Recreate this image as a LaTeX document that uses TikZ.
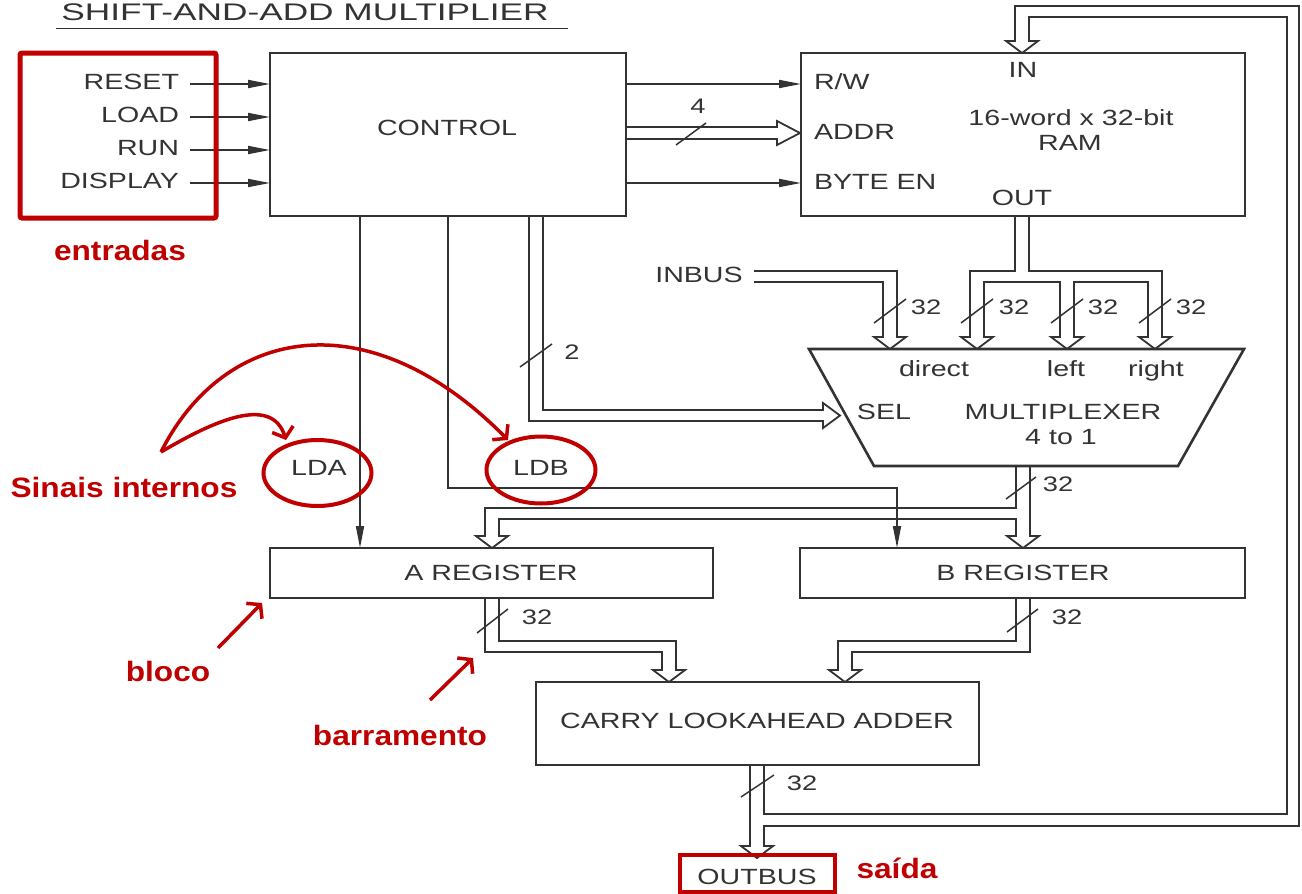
\documentclass[tikz,border=0pt]{standalone}
\usepackage{fontspec}
\usepackage{graphicx}
\setmainfont{Liberation Sans}[FakeStretch=1.3]
\newfontfamily\redfont{Liberation Sans}[FakeStretch=1.13]
\usetikzlibrary{arrows.meta,shapes.geometric}
\definecolor{ink}{HTML}{333333}
\definecolor{mark}{HTML}{C00000}
\begin{document}
\begin{tikzpicture}[x=1pt,y=-1pt,
  every node/.style={font=\fontsize{22}{24}\selectfont, text=ink, inner sep=0pt, outer sep=0pt},
  box/.style={draw=ink, line width=2.6pt, minimum width=#1},
  ln/.style={draw=ink, line width=1.8pt},
  sig/.style={ln, -{Triangle[length=22pt,width=8pt]}},
  bus/.style={ln, line join=miter},
  slash/.style={draw=ink, line width=1.5pt},
  num/.style={font=\fontsize{21}{23}\selectfont},
  redtxt/.style={font=\redfont\bfseries\fontsize{28}{30}\selectfont, text=mark},
  redarr/.style={draw=mark, line width=3.5pt, -{Straight Barb[length=9pt,width=22pt]}},
  ring/.style={draw=mark, line width=4pt, ellipse},
]
\useasboundingbox (0,0) rectangle (1302,894);

% title
\node (title) at (305,12.5) {\fontsize{24}{26}\selectfont\scalebox{1.13}[1]{SHIFT-AND-ADD MULTIPLIER}};
\coordinate (ulL) at (56,28.5);
\coordinate (ulR) at (568,28.5);
\draw[ink, line width=1.5pt] (ulL) -- (ulR);

% blocks
\node[box=356pt, minimum height=163pt] (ctrl) at (448,134.5) {};
\node (ctrltxt) at (447,128) {CONTROL};
\node[box=444pt, minimum height=163pt] (ram) at (1023,134.5) {};
\node[anchor=west] (rw) at (814,82) {R/W};
\node[anchor=west] (addr) at (814,132) {ADDR};
\node[anchor=west] (byteen) at (814,182) {BYTE EN};
\node (in) at (1023,70) {IN};
\node (out) at (1022,198) {OUT};
\node (ramtxt1) at (1071,118) {16-word x 32-bit};
\node (ramtxt2) at (1070,143) {RAM};

\node[box=443pt, minimum height=50pt] (areg) at (491.5,573) {};
\node (aregtxt) at (491,573) {A REGISTER};
\node[box=445pt, minimum height=50pt] (breg) at (1022.5,573) {};
\node (bregtxt) at (1023,573) {B REGISTER};
\node[box=443pt, minimum height=83pt] (adder) at (757.5,723.5) {};
\node (addertxt) at (757,721) {CARRY LOOKAHEAD ADDER};

% multiplexer
\draw[ink, line width=2.6pt, line join=miter] (809,349) -- (1244,349) -- (1178,466) -- (874,466) -- cycle;
\coordinate (mux) at (1026,407);
\node[anchor=base] (direct) at (934,376) {direct};
\node[anchor=base] (left) at (1066,376) {left};
\node[anchor=base] (right) at (1156,376) {right};
\node (sel) at (884,412) {SEL};
\node (muxtxt1) at (1063,412) {MULTIPLEXER};
\node (muxtxt2) at (1061,437) {4 to 1};

% inputs
\node[anchor=east] (reset) at (179,82) {RESET};
\node[anchor=east] (load) at (179,115) {LOAD};
\node[anchor=east] (run) at (179,148) {RUN};
\node[anchor=east] (display) at (179,181) {DISPLAY};
\draw[sig] (190,84) -- (ctrl.west |- 0,84);
\draw[sig] (190,117) -- (ctrl.west |- 0,117);
\draw[sig] (190,150) -- (ctrl.west |- 0,150);
\draw[sig] (190,183) -- (ctrl.west |- 0,183);

% control -> RAM
\draw[sig] (ctrl.east |- 0,84) -- (ram.west |- 0,84);
\draw[sig] (ctrl.east |- 0,183) -- (ram.west |- 0,183);
\draw[bus] (626,127) -- (777,127) -- (777,121) -- (800,133) -- (777,145) -- (777,139) -- (626,139);
\draw[slash] (676,145) -- (706,123);
\node[num] (n4) at (698,106) {4};

% control signals LDA / LDB
\coordinate (ldax) at (360,0);
\coordinate (ldbx) at (448,0);
\coordinate (ldbbx) at (897,0);
\draw[sig] (ctrl.south -| ldax) -- (areg.north -| ldax);
\draw[sig] (ctrl.south -| ldbx) -- (448,488) -- (897,488) -- (breg.north -| ldbbx);
\node (lda) at (319,468) {LDA};
\node (ldb) at (541,468) {LDB};

% SEL bus
\draw[bus] (529,216) -- (529,421) -- (823,421) -- (823,428) -- (840,415.5) -- (823,403) -- (823,410) -- (543,410) -- (543,216);
\draw[slash] (520,367) -- (552,344);
\node[num] (n2) at (572,352) {2};

% INBUS
\node (inbus) at (699,275) {INBUS};
\draw[bus] (754,271) -- (897,271) -- (897,337) -- (906,337) -- (890,349) -- (874,337) -- (883,337) -- (883,282) -- (754,282);

% RAM out to mux
\draw[bus] (1015,216) -- (1015,271) -- (970,271) -- (970,337) -- (961,337) -- (977,349) -- (993,337) -- (984,337) -- (984,282)
  -- (1060,282) -- (1060,337) -- (1051,337) -- (1067,349) -- (1083,337) -- (1074,337) -- (1074,282)
  -- (1148,282) -- (1148,337) -- (1139,337) -- (1155,349) -- (1171,337) -- (1162,337) -- (1162,271) -- (1029,271) -- (1029,216);
\foreach \c/\l in {890/926, 977/1014, 1067/1103, 1155/1191}{
  \draw[slash] (\c-16,323) -- (\c+16,299);
  \node[num] at (\l,307) {32};
}

% mux out to registers
\draw[bus] (1016,466) -- (1016,508) -- (485,508) -- (485,536) -- (476,536) -- (492,548) -- (508,536) -- (499,536) -- (499,519)
  -- (1016,519) -- (1016,536) -- (1007,536) -- (1023,548) -- (1039,536) -- (1030,536) -- (1030,466);
\draw[slash] (1006,499) -- (1036,477);
\node[num] (n32m) at (1058,484) {32};

% registers to adder
\draw[bus] (485,598) -- (485,652) -- (662,652) -- (662,670) -- (653,670) -- (669,682) -- (685,670) -- (676,670) -- (676,641) -- (499,641) -- (499,598);
\draw[slash] (477,633) -- (508,609);
\node[num] (n32a) at (537,617) {32};
\draw[bus] (1016,598) -- (1016,641) -- (838,641) -- (838,670) -- (829,670) -- (845,682) -- (861,670) -- (852,670) -- (852,652) -- (1030,652) -- (1030,598);
\draw[slash] (1007,632) -- (1038,609);
\node[num] (n32b) at (1067,617) {32};

% adder out: OUTBUS and feedback to RAM IN
\draw[bus] (750,765) -- (750,846) -- (741,846) -- (757,858) -- (773,846) -- (764,846) -- (764,826) -- (1299,826) -- (1299,6)
  -- (1015,6) -- (1015,41) -- (1006,41) -- (1022,53) -- (1038,41) -- (1029,41) -- (1029,17) -- (1287,17) -- (1287,814) -- (764,814) -- (764,765);
\draw[slash] (741,797) -- (774,775);
\node[num] (n32o) at (802,783) {32};

% red annotations
\node[draw=mark, line width=5pt, rounded corners=2pt, minimum width=196pt, minimum height=165pt] (inbox) at (118,135.5) {};
\node[redtxt] (entradas) at (120,250) {entradas};
\node[ring, minimum width=108pt, minimum height=66pt] (ldaring) at (317.5,473) {};
\node[ring, minimum width=109pt, minimum height=67pt] (ldbring) at (541,470) {};
\node[redtxt] (sinais) at (124,487) {Sinais internos};
\coordinate (s0) at (161,452);
\draw[redarr] (s0) .. controls (215,420) and (272,395) .. (286,440);
\draw[redarr] (s0) .. controls (225,325) and (370,300) .. (508,440);
\node[redtxt] (bloco) at (168,671) {bloco};
\coordinate (b0) at (218,648);
\coordinate (b1) at (262,603);
\draw[redarr] (b0) -- (b1);
\node[redtxt] (barr) at (400,735) {barramento};
\coordinate (r0) at (430,700);
\coordinate (r1) at (473,658);
\draw[redarr] (r0) -- (r1);
\node[draw=mark, line width=4.5pt, minimum width=155pt, minimum height=37pt] (outbox) at (757.5,873.5) {};
\node (outbus) at (757,877) {OUTBUS};
\node[redtxt] (saida) at (897,868) {saída};
\end{tikzpicture}
\end{document}
